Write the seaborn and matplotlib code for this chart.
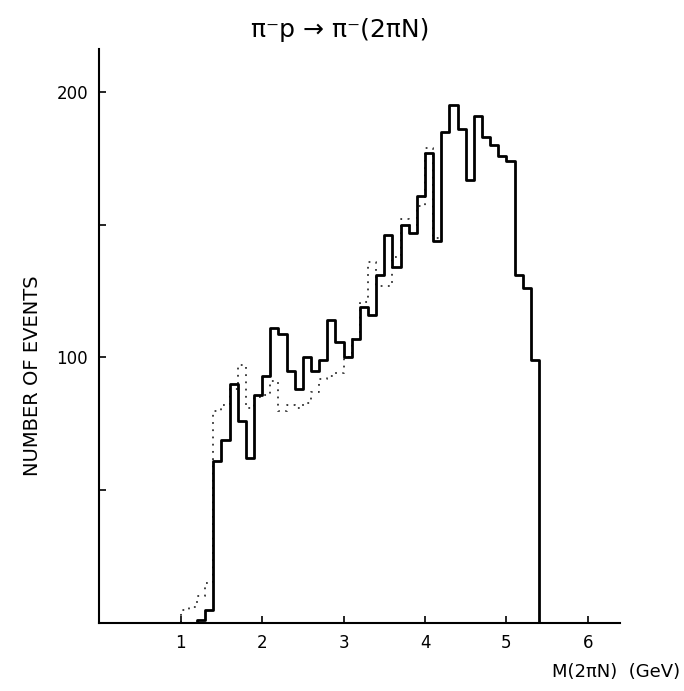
import numpy as np
import pandas as pd
import matplotlib
matplotlib.use("Agg")
import matplotlib.pyplot as plt
import seaborn as sns

# ---- data ----
solid_start = 1.2
bin_width = 0.1
solid_counts = [1, 5, 61, 69, 90, 76, 62, 86, 93, 111, 109, 95, 88, 100, 95, 99,
                114, 106, 100, 107, 119, 116, 131, 146, 134, 150, 147, 161, 177,
                144, 185, 195, 186, 167, 191, 183, 180, 176, 174, 131, 126, 99]

dotted_start = 1.0
dotted_counts = [5, 6, 10, 15, 80, 82, 88, 97, 81, 85, 86, 91, 80, 82, 81, 83,
                 87, 92, 93, 94, 100, 107, 121, 136, 127, 127, 138, 152, 150,
                 157, 179, 145]

x_ticks = [1, 2, 3, 4, 5, 6]
y_ticks = [50, 100, 150, 200]
y_tick_labels = ["", "100", "", "200"]

title = "π⁻p → π⁻(2πN)"
xlabel = "M(2πN)  (GeV)"
ylabel = "NUMBER OF EVENTS"

# ---- build step outlines (closed to the baseline at both ends) ----
n = len(solid_counts)
edges = np.round(solid_start + bin_width * np.arange(n + 1), 3)
sx = np.concatenate([[edges[0]], edges, [edges[-1]]])
sy = np.concatenate([[0], solid_counts, [solid_counts[-1], 0]])
df_solid = pd.DataFrame({"mass": sx, "count": sy})

m = len(dotted_counts)
dedges = np.round(dotted_start + bin_width * np.arange(m + 1), 3)
dx = np.concatenate([[dedges[0]], dedges])
dy = np.concatenate([[0], dotted_counts, [dotted_counts[-1]]])
df_dot = pd.DataFrame({"mass": dx, "count": dy})

sns.set_style("ticks")
plt.rcParams["font.family"] = ["DejaVu Sans"]
plt.rcParams["text.color"] = "black"
plt.rcParams["xtick.color"] = "black"
plt.rcParams["ytick.color"] = "black"

fig = plt.figure(figsize=(6.84, 6.91), dpi=100)
ax = fig.add_axes([0.145, 0.0984, 0.761, 0.83])

sns.lineplot(data=df_dot, x="mass", y="count", drawstyle="steps-post",
             sort=False, estimator=None, color="black", linewidth=1.3,
             linestyle=(0, (1, 3)), alpha=0.8, ax=ax)
sns.lineplot(data=df_solid, x="mass", y="count", drawstyle="steps-post",
             sort=False, estimator=None, color="black", linewidth=2.0, ax=ax)

ax.set_xlim(0, 6.39)
ax.set_ylim(0, 216)
ax.set_xticks(x_ticks)
ax.set_xticklabels([str(t) for t in x_ticks], fontsize=12)
ax.set_yticks(y_ticks)
ax.set_yticklabels(y_tick_labels, fontsize=12)
ax.tick_params(direction="in", length=5, width=1.2, pad=8, colors="black")

for s in ["top", "right"]:
    ax.spines[s].set_visible(False)
for s in ["left", "bottom"]:
    ax.spines[s].set_linewidth(1.5)
    ax.spines[s].set_color("black")

ax.set_xlabel("")
ax.set_ylabel("")
fig.text(0.497, 0.957, title, ha="center", va="center", fontsize=18, color="black")
fig.text(0.047, 0.457, ylabel, rotation=90, ha="center", va="center",
         fontsize=14, color="black")
fig.text(0.995, 0.027, xlabel, ha="right", va="center", fontsize=13, color="black")

fig.savefig("out.png", dpi=100, facecolor="white")
